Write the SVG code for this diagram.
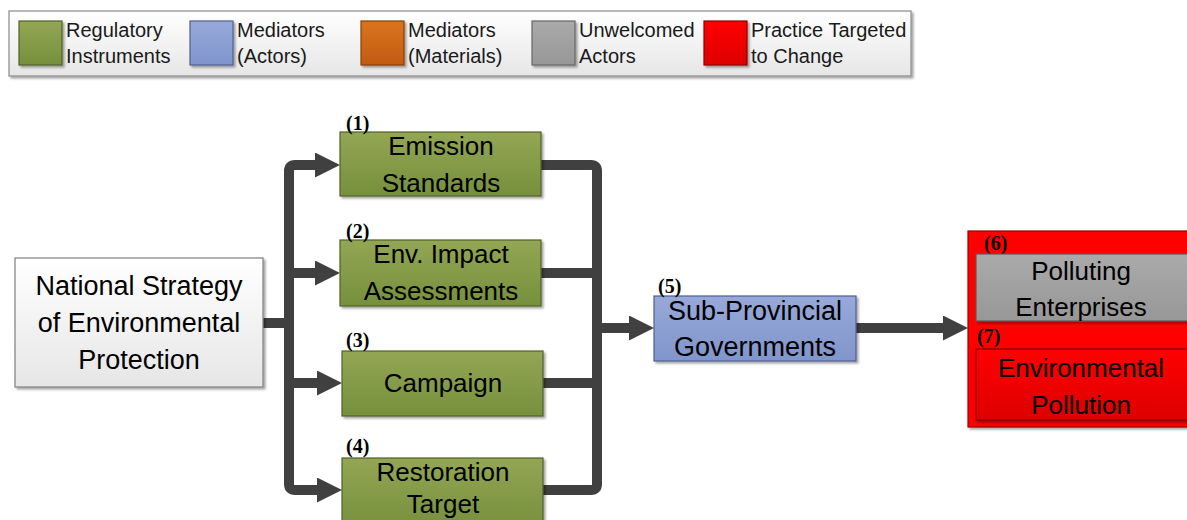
<svg xmlns="http://www.w3.org/2000/svg" width="1187" height="520" viewBox="0 0 1187 520">
<defs>
<linearGradient id="gGreen" x1="0" y1="0" x2="0" y2="1"><stop offset="0" stop-color="#93a654"/><stop offset="1" stop-color="#76903d"/></linearGradient>
<linearGradient id="gBlue" x1="0" y1="0" x2="0" y2="1"><stop offset="0" stop-color="#97a9d9"/><stop offset="1" stop-color="#8095cb"/></linearGradient>
<linearGradient id="gOrange" x1="0" y1="0" x2="0" y2="1"><stop offset="0" stop-color="#da741f"/><stop offset="1" stop-color="#c25b10"/></linearGradient>
<linearGradient id="gGray" x1="0" y1="0" x2="0" y2="1"><stop offset="0" stop-color="#aaaaaa"/><stop offset="1" stop-color="#979797"/></linearGradient>
<linearGradient id="gRed" x1="0" y1="0" x2="0" y2="1"><stop offset="0" stop-color="#ff0000"/><stop offset="1" stop-color="#dd0000"/></linearGradient>
<linearGradient id="gWhite" x1="0" y1="0" x2="0" y2="1"><stop offset="0" stop-color="#ffffff"/><stop offset="1" stop-color="#e6e6e6"/></linearGradient>
<filter id="sh" x="-10%" y="-10%" width="130%" height="140%"><feDropShadow dx="2" dy="2" stdDeviation="1.2" flood-color="#000" flood-opacity="0.35"/></filter>
<marker id="arr" markerUnits="userSpaceOnUse" markerWidth="26" markerHeight="26" refX="3" refY="12.5" orient="auto-start-reverse"><path d="M0,0 L25,12.5 L0,25 Z" fill="#404040"/></marker>
</defs>
<style>
.t{font-family:"Liberation Sans",Arial,sans-serif;fill:#000;text-anchor:middle}
.lg{font-family:"Liberation Sans",Arial,sans-serif;font-size:20px;fill:#1a1a1a}
.n{font-family:"Liberation Serif","Times New Roman",serif;font-weight:bold;font-size:20px;fill:#000}
.g{fill:url(#gGreen);stroke:#4f6228;stroke-width:1.2}
.b{fill:url(#gBlue);stroke:#4f5f8f;stroke-width:1.2}
.c{fill:none;stroke:#404040;stroke-width:10;stroke-linecap:round;stroke-linejoin:round}
</style>

<g id="legend">
<rect x="9" y="11" width="902" height="65" fill="url(#gWhite)" stroke="#8a8a8a" stroke-width="1.2" filter="url(#sh)"/>
<rect x="19" y="21" width="43" height="44" fill="url(#gGreen)" stroke="#4f6228" stroke-width="1.2" filter="url(#sh)"/>
<text class="lg" x="66" y="37">Regulatory</text><text class="lg" x="66" y="63">Instruments</text>
<rect x="190" y="21" width="43" height="44" fill="url(#gBlue)" stroke="#4f5f8f" stroke-width="1.2" filter="url(#sh)"/>
<text class="lg" x="237" y="37">Mediators</text><text class="lg" x="237" y="63">(Actors)</text>
<rect x="361" y="21" width="43" height="44" fill="url(#gOrange)" stroke="#8a3f08" stroke-width="1.2" filter="url(#sh)"/>
<text class="lg" x="408" y="37">Mediators</text><text class="lg" x="408" y="63">(Materials)</text>
<rect x="532" y="21" width="43" height="44" fill="url(#gGray)" stroke="#666" stroke-width="1.2" filter="url(#sh)"/>
<text class="lg" x="579" y="37">Unwelcomed</text><text class="lg" x="579" y="63">Actors</text>
<rect x="704" y="21" width="43" height="44" fill="url(#gRed)" stroke="#8a0000" stroke-width="1.2" filter="url(#sh)"/>
<text class="lg" x="751" y="37">Practice Targeted</text><text class="lg" x="751" y="63">to Change</text>
</g>

<g id="connectors">
<path class="c" d="M263,323 H289"/>
<path class="c" d="M318,165 H295 Q289,165 289,171 V484 Q289,490 295,490 H320" marker-start="url(#arr)" marker-end="url(#arr)"/>
<path class="c" d="M289,273 H318" marker-end="url(#arr)"/>
<path class="c" d="M289,383 H320" marker-end="url(#arr)"/>
<path class="c" d="M541,165 H591 Q597,165 597,171 V484 Q597,490 591,490 H543"/>
<path class="c" d="M541,273 H597"/>
<path class="c" d="M543,383 H597"/>
<path class="c" d="M597,328 H632" marker-end="url(#arr)"/>
<path class="c" d="M856,328 H946" marker-end="url(#arr)"/>
</g>

<g id="national">
<rect x="15" y="258" width="248" height="129" fill="url(#gWhite)" stroke="#7f7f7f" stroke-width="1.2" filter="url(#sh)"/>
<text class="t" font-size="27" x="139" y="295">National Strategy</text>
<text class="t" font-size="27" x="139" y="332">of Environmental</text>
<text class="t" font-size="27" x="139" y="369">Protection</text>
</g>

<g id="n1">
<rect class="g" x="340" y="132" width="201" height="64" filter="url(#sh)"/>
<text class="n" x="346" y="130">(1)</text>
<text class="t" font-size="26" x="441" y="155">Emission</text>
<text class="t" font-size="26" x="441" y="192">Standards</text>
</g>

<g id="n2">
<rect class="g" x="340" y="240" width="201" height="66" filter="url(#sh)"/>
<text class="n" x="346" y="238">(2)</text>
<text class="t" font-size="26" x="441" y="263">Env. Impact</text>
<text class="t" font-size="26" x="441" y="300">Assessments</text>
</g>

<g id="n3">
<rect class="g" x="342" y="351" width="201" height="65" filter="url(#sh)"/>
<text class="n" x="346" y="347">(3)</text>
<text class="t" font-size="26" x="443" y="392">Campaign</text>
</g>

<g id="n4">
<rect class="g" x="342" y="458" width="201" height="70" filter="url(#sh)"/>
<text class="n" x="346" y="453">(4)</text>
<text class="t" font-size="26" x="443" y="481">Restoration</text>
<text class="t" font-size="26" x="443" y="513">Target</text>
</g>

<g id="n5">
<rect class="b" x="654" y="296" width="202" height="65" filter="url(#sh)"/>
<text class="n" x="658" y="293">(5)</text>
<text class="t" font-size="27" x="755" y="320">Sub-Provincial</text>
<text class="t" font-size="27" x="755" y="356">Governments</text>
</g>

<g id="n67">
<rect x="968" y="231" width="230" height="196" fill="#ff0000" stroke="#9a0000" stroke-width="1.2" filter="url(#sh)"/>
<g id="n6">
<text class="n" x="984" y="250">(6)</text>
<rect x="976" y="254" width="220" height="67" fill="url(#gGray)" stroke="#5a5a5a" stroke-width="1.2" filter="url(#sh)"/>
<text class="t" font-size="26" x="1081" y="280">Polluting</text>
<text class="t" font-size="26" x="1081" y="316">Enterprises</text>
</g>
<g id="n7">
<text class="n" x="977" y="343">(7)</text>
<rect x="976" y="349" width="220" height="71" fill="url(#gRed)" stroke="#7a0000" stroke-width="1.2" filter="url(#sh)"/>
<text class="t" font-size="26" x="1081" y="377">Environmental</text>
<text class="t" font-size="26" x="1081" y="414">Pollution</text>
</g>
</g>
</svg>
